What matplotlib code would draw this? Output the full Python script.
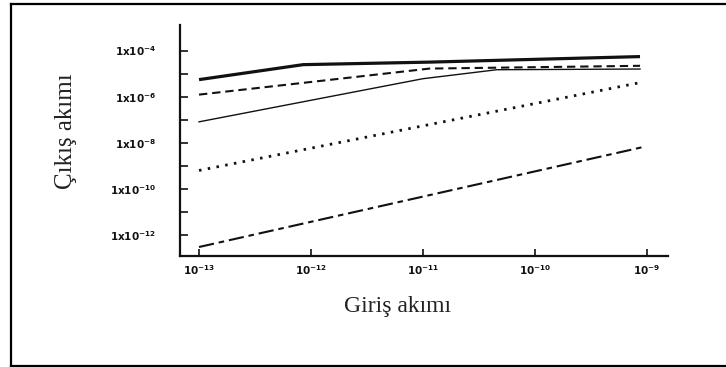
import numpy as np
import matplotlib
matplotlib.use('Agg')
import matplotlib.pyplot as plt
from matplotlib.lines import Line2D

# data: exponents (log10)
x_thick = [-13.0, -12.07, -10.94, -9.06]
y_thick = [-5.26, -4.61, -4.50, -4.26]

x_dashed = [-13.0, -10.94, -9.06]
y_dashed = [-5.91, -4.78, -4.66]

x_thin = [-13.0, -11.0, -10.34, -9.06]
y_thin = [-7.09, -5.22, -4.83, -4.80]

x_dotted = [-13.0, -9.06]
y_dotted = [-9.20, -5.39]

x_dashdot = [-13.0, -9.02]
y_dashdot = [-12.52, -8.17]

xtick_exp = [-13, -12, -11, -10, -9]
ytick_exp = [-4, -6, -8, -10, -12]
yminor_exp = [-5, -7, -9, -11]

xlabel = 'Giriş akımı'
ylabel = 'Çıkış akımı'

plt.rcParams['lines.scale_dashes'] = False
plt.rcParams['mathtext.default'] = 'bf'

fig = plt.figure(figsize=(7.26, 3.67), dpi=100)
ax = fig.add_axes([180/726, 1-256/367, (668-180)/726, (256-25)/367])

ink = '#111111'

ax.plot(10.0**np.array(x_thick), 10.0**np.array(y_thick), color=ink, lw=2.3, solid_capstyle='butt')
ax.plot(10.0**np.array(x_dashed), 10.0**np.array(y_dashed), color=ink, lw=1.5, dashes=(6, 3.5))
ax.plot(10.0**np.array(x_thin), 10.0**np.array(y_thin), color=ink, lw=1.0)
ax.plot(10.0**np.array(x_dotted), 10.0**np.array(y_dotted), color=ink, lw=2.0, dashes=(1.8, 4.6))
ax.plot(10.0**np.array(x_dashdot), 10.0**np.array(y_dashdot), color=ink, lw=1.5, dashes=(11, 3.5, 4, 3.5))

ax.set_xscale('log')
ax.set_yscale('log')
ax.set_xlim(10**-13.17, 10**-8.81)
ax.set_ylim(10**-12.91, 10**-2.89)

# axes look: only left + bottom, ticks inward
for s in ['top', 'right']:
    ax.spines[s].set_visible(False)
for s in ['left', 'bottom']:
    ax.spines[s].set_linewidth(1.6)
    ax.spines[s].set_color(ink)

ax.set_xticks([10.0**e for e in xtick_exp])
ax.set_xticklabels(['10$^{%d}$' % e for e in xtick_exp])
ax.set_yticks([10.0**e for e in ytick_exp])
ax.set_yticklabels(['1x10$^{%d}$' % e for e in ytick_exp])
ax.set_yticks([10.0**e for e in yminor_exp], minor=True)
ax.yaxis.set_minor_formatter(matplotlib.ticker.NullFormatter())
ax.xaxis.set_minor_locator(matplotlib.ticker.NullLocator())

ax.tick_params(axis='x', which='major', direction='in', length=5, width=1.2, pad=5,
               labelsize=7.5, colors=ink)
ax.tick_params(axis='y', which='both', direction='in', length=6, width=1.2, pad=17,
               labelsize=7.5, colors=ink)
for lab in ax.get_xticklabels() + ax.get_yticklabels():
    lab.set_fontweight('bold')

# axis titles
fig.text(397/726, 1-312/367, xlabel, ha='center', va='baseline',
         family='Liberation Serif', fontsize=17, color='#222222')
fig.text(66/726, 1-131/367, ylabel, ha='center', va='center', rotation=90,
         family='Liberation Serif', fontsize=18, color='#222222')

# outer frame (right edge falls outside the picture)
fig.add_artist(Line2D([11/726, 11/726], [1-366/367, 1-4/367], color='black', lw=1.6))
fig.add_artist(Line2D([11/726, 1.0], [1-4/367, 1-4/367], color='black', lw=1.6))
fig.add_artist(Line2D([11/726, 1.0], [1-366/367, 1-366/367], color='black', lw=1.6))

plt.savefig('out.png', dpi=100)
